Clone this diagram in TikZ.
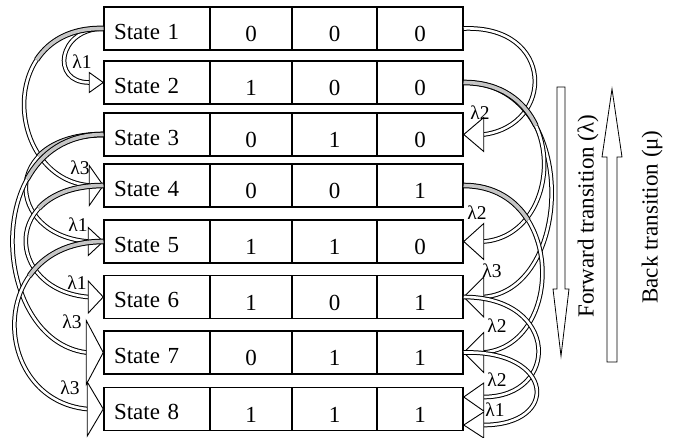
\documentclass[tikz,border=0pt]{standalone}
\usepackage{fontspec}
\setmainfont{Liberation Serif}
\usetikzlibrary{calc}
\tikzset{
  cell/.style={draw, line width=1.5pt, minimum height=43pt, inner sep=0pt, fill=white, font=\fontsize{23}{27}\selectfont},
  scell/.style={cell, text width=86pt, inner xsep=10pt, align=left, text height=21pt, text depth=0pt},
  ncell/.style={cell, text height=26pt, text depth=0pt},
  band/.style={line width=1pt, double=white, double distance=2.6pt},
  bandgray/.style={line width=1pt, double=gray!45, double distance=3.6pt},
  ahead/.style={draw, line width=0.9pt, fill=white, line join=miter},
  lab/.style={font=\fontsize{19.5}{22}\selectfont, inner sep=0pt},
  side/.style={font=\fontsize{23}{27}\selectfont, rotate=90, inner sep=0pt},
  bigarrow/.style={draw, line width=0.8pt, fill=white},
}
% #1 gray fraction, #2 start, #3 control 1, #4 control 2, #5 head base, #6 tip, #7 half width
\newcommand{\barrow}[7][0]{%
  \coordinate (P0) at #2;
  \coordinate (P1) at #3;
  \coordinate (P2) at #4;
  \coordinate (P3) at #5;
  \coordinate (PT) at #6;
  \draw[band] (P0) .. controls (P1) and (P2) .. (P3);
  \ifdim #1pt>0pt
    \coordinate (Q1) at ($(P0)!#1!(P1)$);
    \coordinate (QM) at ($(P1)!#1!(P2)$);
    \coordinate (QN) at ($(P2)!#1!(P3)$);
    \coordinate (Q2) at ($(Q1)!#1!(QM)$);
    \coordinate (R2) at ($(QM)!#1!(QN)$);
    \coordinate (QS) at ($(Q2)!#1!(R2)$);
    \draw[bandgray] (P0) .. controls (Q1) and (Q2) .. (QS);
  \fi
  \draw[ahead] (PT) -- ($(P3)!#7!90:(PT)$) -- ($(P3)!#7!-90:(PT)$) -- cycle;
}
\begin{document}
\begin{tikzpicture}[x=1pt, y=-1pt]
\useasboundingbox (0,0) rectangle (674,437);
% rows of states
\foreach \i/\y/\a/\b/\c in {1/28.5/0/0/0, 2/82.5/1/0/0, 3/134.5/0/1/0, 4/185.5/0/0/1,
  5/241.5/1/1/0, 6/297/1/0/1, 7/352.5/0/1/1, 8/409/1/1/1} {
  \node[scell] (s\i) at (157,\y) {State \i};
  \node[ncell, minimum width=82pt] (a\i) at (251,\y) {\a};
  \node[ncell, minimum width=85pt] (b\i) at (334.5,\y) {\b};
  \node[ncell, minimum width=86pt] (c\i) at (420,\y) {\c};
}
% left side transitions
\barrow{(s1.west)}{(58,28.5)}{(50,82.5)}{([xshift=-14pt]s2.west)}{(s2.west)}{10pt}
\barrow[0.3]{(s1.west)}{(-5,26)}{(5,178)}{([xshift=-14pt]s4.west)}{(s4.west)}{20pt}
\barrow[0.3]{(s3.west)}{(0,134.5)}{(5,235)}{([xshift=-15pt]s5.west)}{(s5.west)}{14pt}
\barrow[0.3]{(s4.west)}{(0,185.5)}{(5,290)}{([xshift=-15pt]s6.west)}{(s6.west)}{16pt}
\barrow[0.3]{(s3.west)}{(-20,134.5)}{(-10,340)}{([xshift=-17pt]s7.west)}{(s7.west)}{32pt}
\barrow[0.3]{(s5.west)}{(-15,241.5)}{(-10,400)}{([xshift=-16pt]s8.west)}{(s8.west)}{27pt}
% right side transitions
\barrow{(c1.east)}{(555,25)}{(555,125)}{([xshift=20pt]c3.east)}{(c3.east)}{17pt}
\barrow{(c2.east)}{(580,82.5)}{(575,290)}{([xshift=20pt]c6.east)}{(c6.east)}{20pt}
\barrow[0.35]{(c2.east)}{(570,82.5)}{(565,235)}{([xshift=20pt]c5.east)}{(c5.east)}{18pt}
\barrow[0.3]{(c4.east)}{(565,185.5)}{(565,345)}{([xshift=20pt]c7.east)}{(c7.east)}{20pt}
\barrow{(c6.east)}{(560,297)}{(560,397)}{([xshift=20pt,yshift=12pt]c8.east)}{([yshift=12pt]c8.east)}{14pt}
\barrow{(c7.east)}{(555,350)}{(560,425)}{([xshift=20pt,yshift=-16pt]c8.east)}{([yshift=-16pt]c8.east)}{13pt}
% labels
\node[lab] (la1) at (82,62) {λ1};
\node[lab] (la2) at (80,168) {λ3};
\node[lab] (la3) at (78,225) {λ1};
\node[lab] (la4) at (77,283) {λ1};
\node[lab] (la5) at (72,322) {λ3};
\node[lab] (la6) at (70,388) {λ3};
\node[lab] (lb1) at (480,113) {λ2};
\node[lab] (lb2) at (477,213) {λ2};
\node[lab] (lb3) at (492,271) {λ3};
\node[lab] (lb4) at (497,326) {λ2};
\node[lab] (lb5) at (497,380) {λ2};
\node[lab] (lb6) at (495,410) {λ1};
% direction arrows
\draw[bigarrow] (557,87) -- (565,87) -- (565,289) -- (569,289) -- (561,356) -- (553,289) -- (557,289) -- cycle;
\draw[bigarrow] (607,362) -- (617,362) -- (617,157) -- (622,157) -- (612,89) -- (602,157) -- (607,157) -- cycle;
\node[side] (fw) at (588,216) {Forward transition (λ)};
\node[side] (bk) at (652,217) {Back transition (μ)};
\end{tikzpicture}
\end{document}
